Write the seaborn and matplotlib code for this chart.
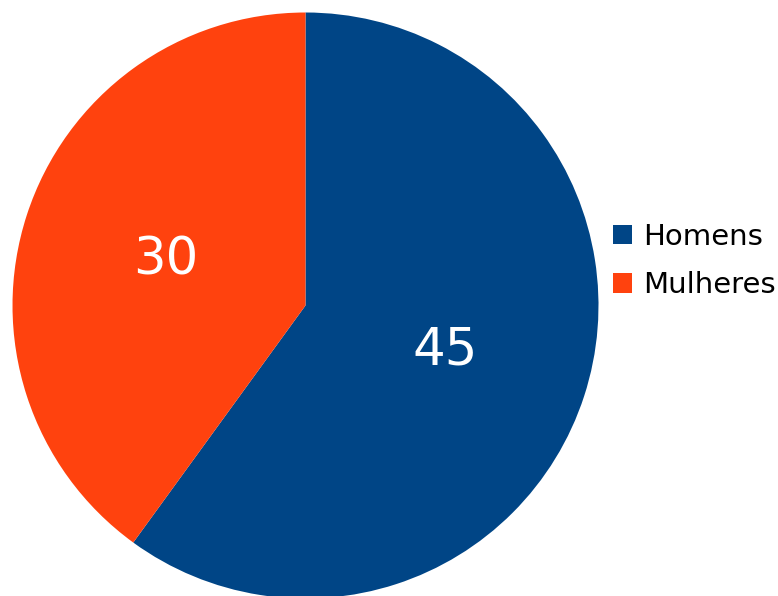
import matplotlib
matplotlib.use("Agg")
import matplotlib.pyplot as plt
import seaborn as sns
from matplotlib.patches import Patch

# =========================================
# DATA
# =========================================

CATEGORIES = ["Homens", "Mulheres"]
VALUES = [45, 30]
COLORS = ["#004586", "#ff420e"]

sns.set_theme(style="white")
plt.rcParams["font.family"] = ["DejaVu Sans"]

# =========================================
# FIGURE
# =========================================

W, H = 778, 596
fig = plt.figure(figsize=(W / 100, H / 100), dpi=100)

cx, cy, r = 305.5, 305.5, 293
ax = fig.add_axes([(cx - r) / W, (H - cy - r) / H, 2 * r / W, 2 * r / H])

wedges, texts, autotexts = ax.pie(
    VALUES,
    colors=COLORS,
    startangle=90,
    counterclock=False,
    autopct=lambda p: f"{p * sum(VALUES) / 100:.0f}",
    pctdistance=0.5,
    radius=1,
    wedgeprops=dict(linewidth=0),
    textprops=dict(color="white", fontsize=37),
)

ax.set_xlim(-1, 1)
ax.set_ylim(-1, 1)
ax.set_aspect("equal")
ax.axis("off")

# =========================================
# LEGEND
# =========================================

handles = [Patch(facecolor=c, edgecolor="none") for c in COLORS]

fig.legend(
    handles,
    CATEGORIES,
    loc="center left",
    bbox_to_anchor=(613 / W, (H - 261) / H),
    frameon=False,
    fontsize=21,
    labelcolor="black",
    handlelength=0.65,
    handleheight=0.65,
    handletextpad=0.4,
    labelspacing=0.7,
    borderpad=0,
    borderaxespad=0,
)

fig.savefig("out.png", dpi=100)
